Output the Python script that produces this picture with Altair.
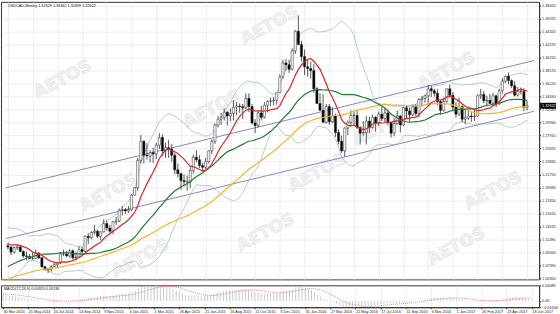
import json
import altair as alt
import pandas as pd

# ---------------- data ----------------
tick_labels = ["30 Mar 2014", "25 May 2014", "20 Jul 2014", "14 Sep 2014", "9 Nov 2014",
               "4 Jan 2015", "1 Mar 2015", "26 Apr 2015", "21 Jun 2015", "16 Aug 2015",
               "11 Oct 2015", "6 Dec 2015", "31 Jan 2016", "27 Mar 2016", "22 May 2016",
               "17 Jul 2016", "11 Sep 2016", "6 Nov 2016", "1 Jan 2017", "26 Feb 2017",
               "23 Apr 2017", "18 Jun 2017"]
tick_weeks = [8 * i for i in range(len(tick_labels))]

price_ticks = [1.48420, 1.46370, 1.44320, 1.42270, 1.40220, 1.38170, 1.36120, 1.34090,
               1.32040, 1.29960, 1.27910, 1.25870, 1.23830, 1.21750, 1.19690, 1.17650,
               1.15610, 1.13570, 1.11490, 1.09450, 1.07390, 1.05350]

# weekly closes before the first visible bar (only feed the indicators)
prior_close = [1.0280, 1.0260, 1.0160, 1.0170, 1.0140, 1.0280, 1.0230, 1.0080, 1.0070, 1.0170,
               1.0330, 1.0370, 1.0220, 1.0190, 1.0360, 1.0520, 1.0590, 1.0390, 1.0320, 1.0280,
               1.0350, 1.0300, 1.0350, 1.0510, 1.0540, 1.0400, 1.0290, 1.0290, 1.0300, 1.0330,
               1.0330, 1.0300, 1.0430, 1.0470, 1.0450, 1.0440, 1.0520, 1.0620, 1.0660, 1.0620,
               1.0650, 1.0640, 1.0640, 1.0890, 1.0950, 1.1050, 1.1140, 1.0990, 1.1040, 1.1060,
               1.1070, 1.1060, 1.1140, 1.1240, 1.1050]

open_ = [1.1050, 1.1030, 1.0950, 1.1020, 1.1030, 1.0960, 1.0890, 1.0880, 1.0850, 1.0850,
         1.0930, 1.0860, 1.0720, 1.0670, 1.0680, 1.0720, 1.0750, 1.0780, 1.0920, 1.0920,
         1.0890, 1.0970, 1.0860, 1.0870, 1.0990, 1.0960, 1.1200, 1.1180, 1.1260, 1.1280,
         1.1200, 1.1270, 1.1400, 1.1330, 1.1280, 1.1430, 1.1440, 1.1610, 1.1620, 1.1600,
         1.1620, 1.1850, 1.1970, 1.2400, 1.2700, 1.2480, 1.2470, 1.2520, 1.2500, 1.2640,
         1.2760, 1.2550, 1.2600, 1.2580, 1.2480, 1.2250, 1.2190, 1.2080, 1.2060, 1.2060,
         1.2240, 1.2450, 1.2410, 1.2320, 1.2290, 1.2380, 1.2550, 1.2700, 1.2960, 1.3050,
         1.3080, 1.3160, 1.3100, 1.3140, 1.3240, 1.3260, 1.3250, 1.3230, 1.3380, 1.3250,
         1.2990, 1.2950, 1.3150, 1.3080, 1.3270, 1.3330, 1.3340, 1.3350, 1.3470, 1.3720,
         1.3940, 1.3910, 1.3840, 1.4130, 1.4440, 1.4230, 1.4040, 1.3880, 1.3850, 1.3820,
         1.3530, 1.3300, 1.3190, 1.3000, 1.3250, 1.3010, 1.3100, 1.2840, 1.2700, 1.2550,
         1.2910, 1.3000, 1.3110, 1.3110, 1.2920, 1.2830, 1.2840, 1.3020, 1.2920, 1.3080,
         1.2990, 1.3130, 1.3060, 1.3150, 1.3000, 1.2830, 1.2980, 1.3100, 1.2960, 1.3230,
         1.3180, 1.3120, 1.3250, 1.3140, 1.3360, 1.3380, 1.3420, 1.3530, 1.3500, 1.3460,
         1.3330, 1.3190, 1.3330, 1.3530, 1.3430, 1.3240, 1.3130, 1.3250, 1.3050, 1.3070,
         1.3100, 1.3090, 1.3100, 1.3420, 1.3440, 1.3340, 1.3350, 1.3300, 1.3420, 1.3290,
         1.3500, 1.3650, 1.3730, 1.3660, 1.3580, 1.3430, 1.3490, 1.3490, 1.3233]

high = [1.1100, 1.1040, 1.1040, 1.1060, 1.1060, 1.0980, 1.0960, 1.0920, 1.0950, 1.0990,
        1.0950, 1.0870, 1.0730, 1.0700, 1.0740, 1.0790, 1.0780, 1.0950, 1.0990, 1.0970,
        1.1000, 1.0990, 1.0950, 1.1040, 1.1030, 1.1210, 1.1250, 1.1280, 1.1380, 1.1300,
        1.1280, 1.1470, 1.1450, 1.1380, 1.1440, 1.1510, 1.1640, 1.1680, 1.1650, 1.1680,
        1.1860, 1.1980, 1.2440, 1.2800, 1.2720, 1.2670, 1.2560, 1.2600, 1.2680, 1.2830,
        1.2810, 1.2680, 1.2720, 1.2660, 1.2520, 1.2350, 1.2210, 1.2180, 1.2160, 1.2290,
        1.2490, 1.2560, 1.2480, 1.2360, 1.2440, 1.2560, 1.2730, 1.2980, 1.3100, 1.3150,
        1.3220, 1.3180, 1.3220, 1.3350, 1.3320, 1.3300, 1.3290, 1.3460, 1.3460, 1.3290,
        1.3050, 1.3180, 1.3260, 1.3320, 1.3350, 1.3390, 1.3400, 1.3460, 1.3760, 1.3990,
        1.4000, 1.3990, 1.4170, 1.4460, 1.4690, 1.4290, 1.4150, 1.3990, 1.3960, 1.3920,
        1.3560, 1.3460, 1.3450, 1.3290, 1.3290, 1.3240, 1.3140, 1.2890, 1.2790, 1.2920,
        1.3030, 1.3190, 1.3170, 1.3190, 1.2940, 1.3020, 1.3100, 1.3090, 1.3120, 1.3100,
        1.3170, 1.3250, 1.3220, 1.3200, 1.3010, 1.3060, 1.3180, 1.3110, 1.3250, 1.3260,
        1.3240, 1.3280, 1.3290, 1.3380, 1.3420, 1.3440, 1.3590, 1.3580, 1.3530, 1.3520,
        1.3350, 1.3390, 1.3540, 1.3600, 1.3480, 1.3320, 1.3390, 1.3280, 1.3200, 1.3190,
        1.3160, 1.3200, 1.3440, 1.3530, 1.3500, 1.3420, 1.3450, 1.3470, 1.3440, 1.3530,
        1.3700, 1.3740, 1.3790, 1.3680, 1.3650, 1.3560, 1.3550, 1.3540, 1.3346]

low = [1.0990, 1.0900, 1.0930, 1.0980, 1.0950, 1.0860, 1.0820, 1.0840, 1.0830, 1.0840,
       1.0840, 1.0700, 1.0660, 1.0620, 1.0640, 1.0710, 1.0700, 1.0760, 1.0890, 1.0870,
       1.0860, 1.0830, 1.0820, 1.0860, 1.0910, 1.0950, 1.1080, 1.1150, 1.1230, 1.1170,
       1.1140, 1.1260, 1.1290, 1.1240, 1.1230, 1.1380, 1.1420, 1.1530, 1.1550, 1.1570,
       1.1600, 1.1840, 1.1920, 1.2350, 1.2350, 1.2410, 1.2370, 1.2360, 1.2420, 1.2580,
       1.2470, 1.2440, 1.2440, 1.2380, 1.2180, 1.2130, 1.1940, 1.1990, 1.1920, 1.1960,
       1.2190, 1.2370, 1.2280, 1.2220, 1.2260, 1.2350, 1.2500, 1.2660, 1.2920, 1.2960,
       1.3030, 1.2950, 1.3020, 1.3030, 1.3110, 1.3150, 1.3050, 1.3210, 1.3160, 1.2970,
       1.2830, 1.2920, 1.3030, 1.3060, 1.3160, 1.3260, 1.3270, 1.3280, 1.3460, 1.3690,
       1.3820, 1.3780, 1.3820, 1.4080, 1.4220, 1.3960, 1.3750, 1.3720, 1.3690, 1.3470,
       1.3290, 1.3180, 1.2990, 1.2980, 1.2960, 1.2990, 1.2770, 1.2650, 1.2520, 1.2460,
       1.2800, 1.2930, 1.2940, 1.2890, 1.2650, 1.2790, 1.2650, 1.2830, 1.2900, 1.2850,
       1.2940, 1.3020, 1.2990, 1.2960, 1.2760, 1.2780, 1.2960, 1.2840, 1.2940, 1.3050,
       1.3010, 1.3100, 1.3100, 1.3080, 1.3250, 1.3310, 1.3260, 1.3400, 1.3410, 1.3270,
       1.3120, 1.3170, 1.3310, 1.3410, 1.3180, 1.3070, 1.3100, 1.3000, 1.2970, 1.3040,
       1.3010, 1.3020, 1.3090, 1.3370, 1.3300, 1.3260, 1.3290, 1.3260, 1.3240, 1.3280,
       1.3450, 1.3620, 1.3600, 1.3540, 1.3410, 1.3410, 1.3440, 1.3180, 1.3190]

close = [1.1030, 1.0950, 1.1020, 1.1030, 1.0960, 1.0890, 1.0880, 1.0850, 1.0850, 1.0930,
         1.0860, 1.0720, 1.0670, 1.0680, 1.0720, 1.0750, 1.0780, 1.0920, 1.0920, 1.0890,
         1.0970, 1.0860, 1.0870, 1.0990, 1.0960, 1.1200, 1.1180, 1.1260, 1.1280, 1.1200,
         1.1270, 1.1400, 1.1330, 1.1280, 1.1430, 1.1440, 1.1610, 1.1620, 1.1600, 1.1620,
         1.1850, 1.1970, 1.2400, 1.2700, 1.2480, 1.2470, 1.2520, 1.2500, 1.2640, 1.2760,
         1.2550, 1.2600, 1.2580, 1.2480, 1.2250, 1.2190, 1.2080, 1.2060, 1.2060, 1.2240,
         1.2450, 1.2410, 1.2320, 1.2290, 1.2380, 1.2550, 1.2700, 1.2960, 1.3050, 1.3080,
         1.3160, 1.3100, 1.3140, 1.3240, 1.3260, 1.3250, 1.3230, 1.3380, 1.3250, 1.2990,
         1.2950, 1.3150, 1.3080, 1.3270, 1.3330, 1.3340, 1.3350, 1.3470, 1.3720, 1.3940,
         1.3910, 1.3840, 1.4130, 1.4440, 1.4230, 1.4040, 1.3880, 1.3850, 1.3820, 1.3530,
         1.3300, 1.3190, 1.3000, 1.3250, 1.3010, 1.3100, 1.2840, 1.2700, 1.2550, 1.2910,
         1.3000, 1.3110, 1.3110, 1.2920, 1.2830, 1.2840, 1.3020, 1.2920, 1.3080, 1.2990,
         1.3130, 1.3060, 1.3150, 1.3000, 1.2830, 1.2980, 1.3100, 1.2960, 1.3230, 1.3180,
         1.3120, 1.3250, 1.3140, 1.3360, 1.3380, 1.3420, 1.3530, 1.3500, 1.3460, 1.3330,
         1.3190, 1.3330, 1.3530, 1.3430, 1.3240, 1.3130, 1.3250, 1.3050, 1.3070, 1.3100,
         1.3090, 1.3100, 1.3420, 1.3440, 1.3340, 1.3350, 1.3300, 1.3420, 1.3290, 1.3500,
         1.3650, 1.3730, 1.3660, 1.3580, 1.3430, 1.3490, 1.3490, 1.3240, 1.3262]

# hand-drawn channel: end points (week index, price)
channel_weeks = [-0.63, 170.3]
channel_upper = [1.1966, 1.3977]
channel_lower = [1.1164, 1.3175]

title_text = "USDCAD,Weekly  1.32329 1.33462 1.31899 1.32622"
macd_text = "MACD(12,26,9) 0.00320 0.00746"
last_price_text = "1.32622"

# ---------------- layout / style ----------------
W = 541
H_PRICE = 279
H_MACD = 22
FONT = "Liberation Sans"
FS = 3.8
wm_x = [62, 270, 448, 212, 382, 108, 318, 495, 140, 266, 458]
wm_y = [78, 24, 70, 108, 126, 192, 172, 190, 258, 232, 246]

# ---------------- derived tables ----------------
n = len(close)
assert all(len(a) == n for a in (open_, high, low))
candles = pd.DataFrame({"week": list(range(n)), "open": open_, "high": high,
                        "low": low, "close": close})

hist = pd.Series(prior_close + close, dtype=float)
k = len(prior_close)
ind = pd.DataFrame({"week": list(range(-k, n))})
ind["ma10"] = hist.rolling(10).mean().to_numpy()
ind["ma30"] = hist.rolling(30).mean().to_numpy()
ind["ma55"] = hist.rolling(55).mean().to_numpy()
mid = hist.rolling(20).mean()
sd = hist.rolling(20).std(ddof=0)
ind["bb_up"] = (mid + 2 * sd).to_numpy()
ind["bb_dn"] = (mid - 2 * sd).to_numpy()
ema12 = hist.ewm(span=12, adjust=False).mean()
ema26 = hist.ewm(span=26, adjust=False).mean()
ind["macd"] = (ema12 - ema26).to_numpy()
ind["signal"] = ind["macd"].rolling(9).mean()
ind = ind[ind["week"] >= 0].reset_index(drop=True)

channel = pd.DataFrame({
    "week": channel_weeks + channel_weeks,
    "price": channel_upper + channel_lower,
    "line": ["upper"] * 2 + ["lower"] * 2,
})
last = pd.DataFrame({"p": [close[-1]], "t": [last_price_text]})
one = pd.DataFrame({"a": [0]})

# ---------------- scales & axes ----------------
xsc = alt.Scale(domain=[-0.63, 170.3], nice=False, zero=False)
ysc = alt.Scale(domain=[1.05350 - 1 / 636.2, 1.48420 + 4 / 636.2], nice=False, zero=False)

x_price = alt.X("week:Q", scale=xsc, title=None,
                axis=alt.Axis(values=tick_weeks, labels=False, ticks=False,
                              domain=False, grid=True))
yaxis = alt.Axis(orient="right", values=price_ticks, format=".5f", grid=True,
                 labelOverlap=False, labelFlush=False)


def py(field):
    return alt.Y(field, scale=ysc, axis=yaxis, title=None)


layers = []
for wx, wy in zip(wm_x, wm_y):
    layers.append(
        alt.Chart(one).mark_text(text="AETOS", angle=332, fontSize=17, fontWeight="bold",
                                 font="DejaVu Sans", fill="#f1f1f1", stroke="#e1e1e1",
                                 strokeWidth=0.5, clip=True)
        .encode(x=alt.value(wx), y=alt.value(wy))
    )

bb_up = alt.Chart(ind).mark_line(color="#a3c2b6", strokeWidth=0.8, clip=True).encode(
    x=x_price, y=py("bb_up:Q"))
bb_dn = alt.Chart(ind).mark_line(color="#a3c2b6", strokeWidth=0.8, clip=True).encode(
    x=x_price, y=py("bb_dn:Q"))
chan = alt.Chart(channel).mark_line(color="#8686cc", strokeWidth=1, clip=True).encode(
    x=x_price, y=py("price:Q"), detail="line:N")
wick = alt.Chart(candles).mark_rule(color="#111111", strokeWidth=0.7, clip=True).encode(
    x=x_price, y=py("low:Q"), y2="high:Q")
body = alt.Chart(candles).mark_bar(size=2.2, stroke="#222222", strokeWidth=0.5, clip=True).encode(
    x=x_price, y=py("open:Q"), y2="close:Q",
    color=alt.condition("datum.close >= datum.open", alt.value("#ffffff"), alt.value("#000000")))
ma55 = alt.Chart(ind).mark_line(color="#f1b52d", strokeWidth=1.2, clip=True).encode(
    x=x_price, y=py("ma55:Q"))
ma30 = alt.Chart(ind).mark_line(color="#217a35", strokeWidth=1.2, clip=True).encode(
    x=x_price, y=py("ma30:Q"))
ma10 = alt.Chart(ind).mark_line(color="#d8252b", strokeWidth=1.2, clip=True).encode(
    x=x_price, y=py("ma10:Q"))
title = alt.Chart(one).mark_text(text=title_text, align="left", baseline="top",
                                 fontSize=FS, font=FONT, color="#111111").encode(
    x=alt.value(7), y=alt.value(2))
box = alt.Chart(last).mark_rule(color="#000000", strokeWidth=6, clip=False).encode(
    x=alt.value(W + 1), x2=alt.value(W + 17), y=py("p:Q"))
box_t = alt.Chart(last).mark_text(align="left", baseline="middle", fontSize=FS, font=FONT,
                                  color="#ffffff", clip=False).encode(
    x=alt.value(W + 3), y=py("p:Q"), text="t:N")

price = alt.layer(*layers, bb_up, bb_dn, chan, wick, body, ma55, ma30, ma10, title,
                  box, box_t).properties(width=W, height=H_PRICE)

# ---------------- MACD pane ----------------
mx = float(ind["macd"].max())
mn = float(min(ind["macd"].min(), ind["signal"].min()))
msc = alt.Scale(domain=[mn, mx], nice=False, zero=False)
label_expr = "%s[round(datum.value / 8)]" % json.dumps(tick_labels)
x_macd = alt.X("week:Q", scale=xsc, title=None,
               axis=alt.Axis(values=tick_weeks, labelExpr=label_expr, labelAlign="left",
                             labelOverlap=False, labelFlush=False, grid=True))
maxis = alt.Axis(orient="right", values=[mx, 0, mn], grid=False, labelOverlap=False,
                 labelFlush=False,
                 labelExpr="datum.value == 0 ? '0.00' : format(datum.value, '.5f')")

mhist = alt.Chart(ind).mark_rule(color="#c4c4c4", strokeWidth=0.9, clip=True).encode(
    x=x_macd, y=alt.Y("macd:Q", scale=msc, axis=maxis, title=None), y2=alt.datum(0))
msig = alt.Chart(ind).mark_line(color="#e06a6a", strokeWidth=0.8, strokeDash=[1, 1],
                                clip=True).encode(
    x=x_macd, y=alt.Y("signal:Q", scale=msc, axis=maxis, title=None))
mlab = alt.Chart(one).mark_text(text=macd_text, align="left", baseline="top", fontSize=FS,
                                font=FONT, color="#111111").encode(
    x=alt.value(3), y=alt.value(2))
macd = alt.layer(mhist, msig, mlab).properties(width=W, height=H_MACD)

chart = (
    alt.vconcat(price, macd, spacing=1)
    .properties(padding=0, background="white")
    .configure_view(stroke="#333333", strokeWidth=1)
    .configure_axis(labelFont=FONT, labelFontSize=FS, labelColor="#222222",
                    tickColor="#333333", domainColor="#333333", gridColor="#e3e3e3",
                    gridWidth=0.6, tickSize=1.5, labelPadding=1)
)

chart.save("out.html", embed_options={"renderer": "svg", "actions": False})
